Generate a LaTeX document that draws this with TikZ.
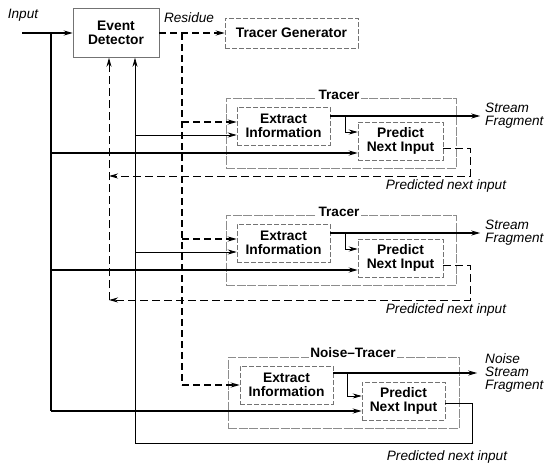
\documentclass[tikz,border=0pt]{standalone}
\usepackage{fontspec}
\setmainfont{Liberation Sans}
\usetikzlibrary{arrows.meta, calc}

\tikzset{
  arr/.style={-{Stealth[length=9pt, width=5pt]}},
  bus/.style={line width=1.6pt},
  residue/.style={line width=1.7pt, dash pattern=on 7pt off 4pt},
  fback/.style={line width=1pt, dash pattern=on 8pt off 4pt},
  thinline/.style={line width=0.7pt},
  outline/.style={line width=1.2pt},
  block/.style={align=center, inner sep=0pt, font=\bfseries\fontsize{13.8}{14}\selectfont},
  solidbox/.style={block, draw=black!55, line width=0.5pt},
  dashbox/.style={block, draw=black!55, line width=0.5pt, dash pattern=on 5pt off 2pt},
  unitbox/.style={draw=black!45, line width=0.5pt, dash pattern=on 9pt off 1.5pt},
  unitname/.style={fill=white, inner sep=1.5pt, font=\bfseries\fontsize{13.6}{14}\selectfont},
  lbl/.style={align=left, inner sep=0pt, font=\itshape\fontsize{13.6}{13}\selectfont},
}

\begin{document}
\begin{tikzpicture}[x=1pt, y=-1pt]
\useasboundingbox (0,0) rectangle (545,464);

% detector and generator
\node[solidbox, minimum width=86pt, minimum height=49pt] (det) at (116,33) {Event\\Detector};
\node[dashbox, minimum width=133pt, minimum height=30pt] (gen) at (291.5,33) {Tracer Generator};
\coordinate (detfb) at ([xshift=-7pt]det.south);
\coordinate (detin) at ([xshift=19pt]det.south);
\coordinate (src) at (22,33);

\node[lbl] (inlbl) at (23,15) {Input};
\node[lbl] (reslbl) at (189,18) {Residue};

% input trunk and residue bus
\draw[bus, arr] (src) -- (det.west);
\draw[bus] (51,33) -- (51,411);
\draw[residue, arr] (det.east) -- (gen.west);
\draw[residue] (182,33) -- (182,385);
\draw[fback, arr] (109,300) -- (detfb);

% the two tracers
\foreach \i/\dy/\fy in {1/0/176, 2/117/300} {
  \node[unitbox, minimum width=230pt, minimum height=70pt] (tr\i) at (341,133+\dy) {};
  \node[unitname] (trname\i) at (339,95+\dy) {Tracer};
  \node[dashbox, minimum width=93pt, minimum height=38pt] (ext\i) at (283.5,126+\dy) {Extract\\Information};
  \node[dashbox, minimum width=85pt, minimum height=38pt] (pred\i) at (400.5,141+\dy) {Predict\\Next Input};
  \draw[outline, arr] ([yshift=10pt]ext\i.east) -- ++(150,0) coordinate[pos=0.1] (fork\i);
  \draw[thinline, arr] (fork\i) |- ([yshift=9pt]pred\i.west);
  \draw[residue, arr] (182,122+\dy) -- ([yshift=4pt]ext\i.west);
  \draw[thinline, arr] (135,135+\dy) -- ([yshift=-9pt]ext\i.west);
  \draw[bus, arr] (51,153+\dy) -- ([yshift=-12pt]pred\i.west);
  \draw[fback, arr] ([yshift=-7pt]pred\i.east) -| (470,\fy) -- (109,\fy);
  \node[lbl, anchor=west] (strm\i) at (485,116+\dy) {Stream\\Fragment};
  \node[lbl] (nxt\i) at (446,\fy+10) {Predicted next input};
}

% noise tracer
\node[unitbox, minimum width=231pt, minimum height=71pt] (tr3) at (343.5,392.5) {};
\node[unitname] (trname3) at (353,353) {Noise--Tracer};
\node[dashbox, minimum width=93pt, minimum height=38pt] (ext3) at (286.5,385) {Extract\\Information};
\node[dashbox, minimum width=83pt, minimum height=38pt] (pred3) at (403.5,401) {Predict\\Next Input};
\draw[outline, arr] ([yshift=12pt]ext3.east) -- ++(144,0) coordinate[pos=0.1] (fork3);
\draw[thinline, arr] (fork3) |- ([yshift=5pt]pred3.west);
\draw[residue, arr] (182,385) -- (ext3.west);
\draw[bus, arr] (51,411) -- ([yshift=-10pt]pred3.west);
\draw[thinline, arr] ([yshift=-2pt]pred3.east) -| (472,443) -| (detin);
\node[lbl, anchor=west, font=\itshape\fontsize{13.6}{13}\selectfont] (strm3) at (485,373) {Noise\\Stream\\Fragment};
\node[lbl] (nxt3) at (447,457) {Predicted next input};
\end{tikzpicture}
\end{document}
